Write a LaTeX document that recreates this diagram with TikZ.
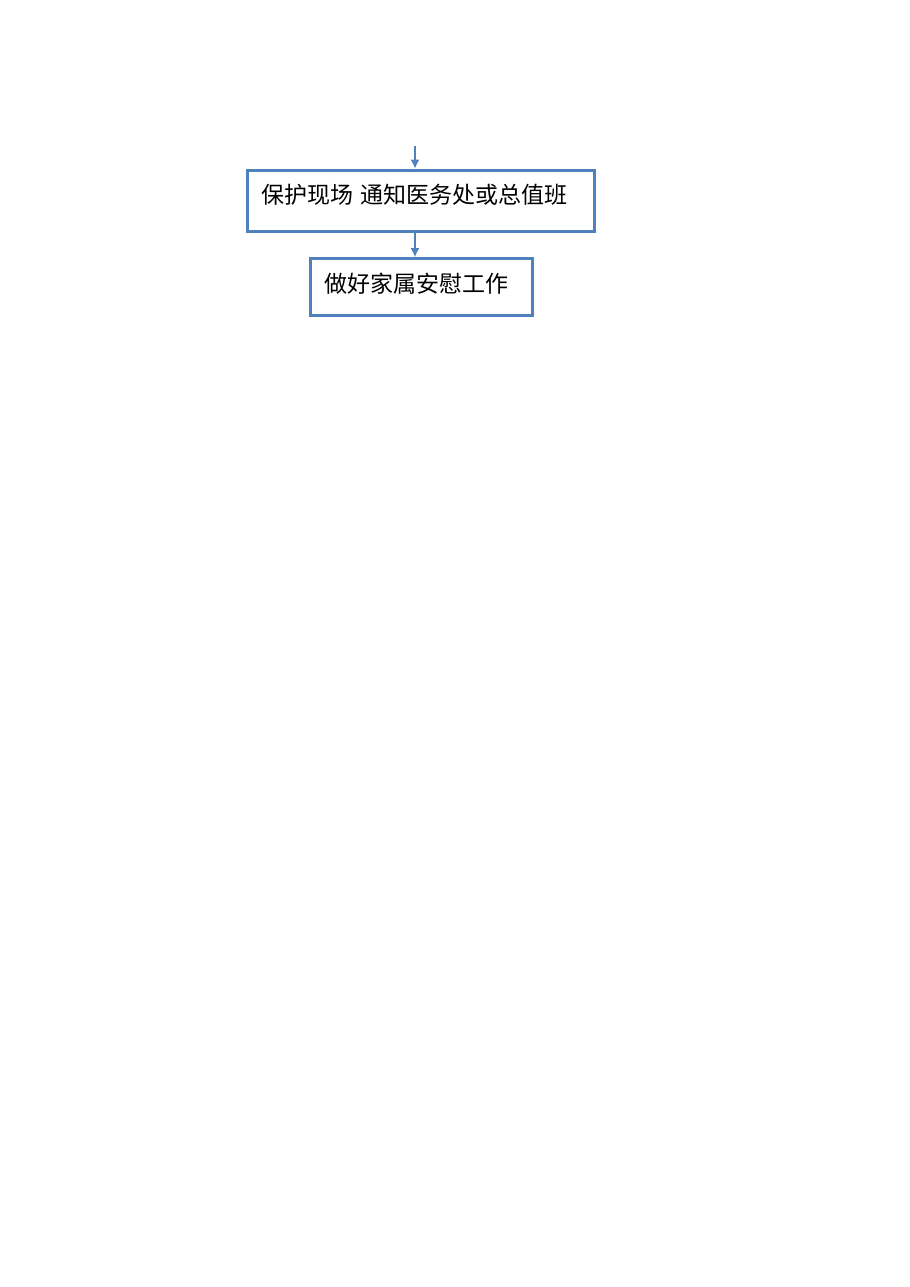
\documentclass[tikz,border=0pt]{standalone}
\usepackage{fontspec}
\setmainfont{Noto Sans CJK SC}
\usetikzlibrary{positioning}
\usetikzlibrary{arrows.meta}
\usetikzlibrary{calc}

\definecolor{boxblue}{HTML}{4F81BD}

\begin{document}
\begin{tikzpicture}[x=0.5pt, y=-0.5pt,
	stepbox/.style={draw=boxblue, line width=1.5pt, inner xsep=7pt, inner ysep=0pt, text height=10pt, align=left, font=\fontsize{11.5pt}{13pt}\selectfont},
	flow/.style={draw=boxblue, line width=0.6pt, -{Latex[length=4.5pt, width=4.5pt]}}]
	 % page frame
	 \useasboundingbox (0,0) rectangle (910,1287);

	 % boxes
	 \node[stepbox, text width=159.5pt, text depth=7.2pt, minimum height=30.5pt] (protect) at (420.5,200.5) {保护现场 通知医务处或总值班};
	 \node[stepbox, text width=97pt, text depth=4.2pt, minimum height=28.5pt] (comfort) at (421,287) {做好家属安慰工作};

	 % arrows
	 \coordinate (start) at (415,146);
	 \draw[flow] (start) -- (start |- protect.north);
	 \draw[flow] (start |- protect.south) -- (start |- comfort.north);
\end{tikzpicture}
\end{document}
